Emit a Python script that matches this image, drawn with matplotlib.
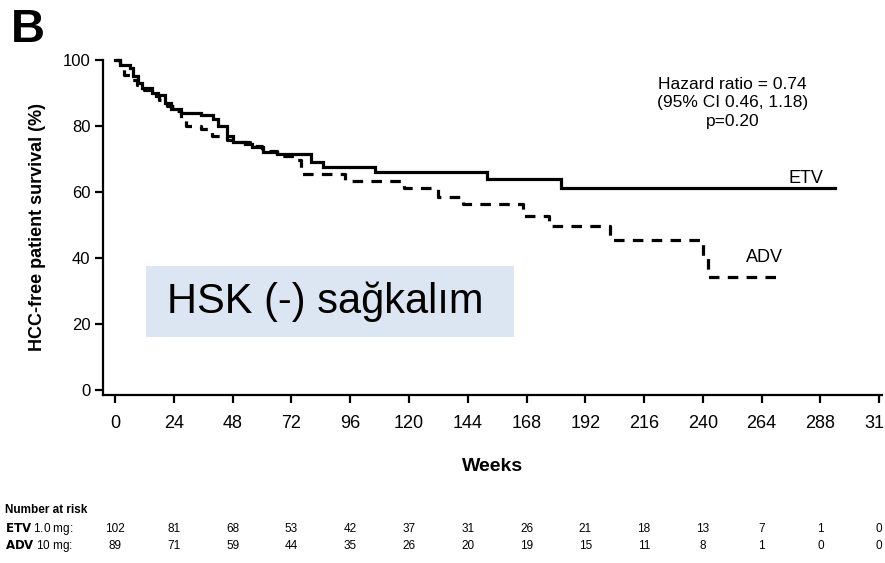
import matplotlib
matplotlib.use("Agg")
import matplotlib.pyplot as plt
from matplotlib.patches import Rectangle

plt.rcParams['font.family'] = ['Liberation Sans Narrow', 'Liberation Sans', 'DejaVu Sans']

# Kaplan-Meier step data (weeks, % HCC-free survival)
etv_weeks = [0, 2, 6, 7.5, 9.5, 11, 15, 17.5, 20.5, 23, 27, 35, 40, 42, 45.5, 48,
             53, 56, 60.5, 66, 80, 85, 106, 152, 182]
etv_surv = [100, 98.5, 97.5, 95, 93, 91.5, 90, 89.4, 87, 85, 84, 83.3, 82, 80, 77, 75,
            74.5, 73.7, 72, 71.5, 69, 67.7, 66, 64, 61.2]
etv_end = 294

adv_weeks = [0, 2, 3.5, 6, 9, 12, 15, 18, 21, 24, 27, 29, 35, 39.5, 45.5, 50, 55, 60,
             66, 73, 76, 94, 118, 132, 142, 166.5, 177, 202, 240, 242]
adv_surv = [100, 98.9, 95.5, 94, 92.5, 91, 89, 88, 86, 84.5, 82, 80, 79, 77, 75.7, 75,
            74, 72.5, 71, 69.7, 65.5, 63.4, 61.2, 58.6, 56.3, 52.8, 49.7, 45.5, 40.4, 34.2]
adv_end = 271.5

x_ticks = list(range(0, 313, 24))
y_ticks = [0, 20, 40, 60, 80, 100]

risk_etv = [102, 81, 68, 53, 42, 37, 31, 26, 21, 18, 13, 7, 1, 0]
risk_adv = [89, 71, 59, 44, 35, 26, 20, 19, 15, 11, 8, 1, 0, 0]

fig = plt.figure(figsize=(8.85, 5.63), dpi=100)
ax = fig.add_axes([0.1162, 0.2979, 0.8800, 0.5985])

ax.step(etv_weeks + [etv_end], etv_surv + [etv_surv[-1]], where='post',
        color='black', lw=2.3, clip_on=False, solid_joinstyle='miter')
ax.step(adv_weeks + [adv_end], adv_surv + [adv_surv[-1]], where='post',
        color='black', lw=2.3, clip_on=False, dashes=(3.3, 2.6))

ax.set_xlim(-5, 313)
ax.set_ylim(-1.6, 100.5)
ax.spines['top'].set_visible(False)
ax.spines['right'].set_visible(False)
ax.spines['left'].set_bounds(-1.6, 100)
for s in ('left', 'bottom'):
    ax.spines[s].set_linewidth(1.6)

ax.set_xticks(x_ticks)
ax.set_yticks(y_ticks)
ax.tick_params(axis='both', direction='out', length=6, width=1.6, color='black')
ax.tick_params(axis='x', labelsize=13, pad=8)
ax.tick_params(axis='y', labelsize=12, pad=3)

ax.set_ylabel('HCC-free patient survival (%)', fontsize=13, fontweight='bold',
              family=['Liberation Sans', 'DejaVu Sans'], labelpad=12)
ax.set_xlabel('Weeks', fontsize=14, fontweight='bold', labelpad=19)

ax.text(252, 87, 'Hazard ratio = 0.74\n(95% CI 0.46, 1.18)\np=0.20',
        ha='center', va='center', fontsize=12.5, linespacing=1.3)
ax.text(282, 61.5, 'ETV', ha='center', va='bottom', fontsize=13)
ax.text(265, 40, 'ADV', ha='center', va='center', fontsize=13)

# Panel letter
fig.text(0.012, 0.985, 'B', ha='left', va='top', fontsize=34, fontweight='bold',
         family=['Liberation Sans', 'DejaVu Sans'])

# Highlighted caption box
fig.patches.append(Rectangle((146 / 885, 1 - 337 / 563), (514 - 146) / 885, (337 - 266) / 563,
                             transform=fig.transFigure, facecolor='#dce6f2',
                             edgecolor='none', zorder=5))
fig.text(167 / 885, 1 - 302 / 563, 'HSK (-) sağkalım', ha='left', va='center',
         fontsize=30, family=['Liberation Sans', 'DejaVu Sans'], zorder=6)

# Number-at-risk table
fig.text(5 / 885, 1 - 510 / 563, 'Number at risk', ha='left', va='center',
         fontsize=8.5, fontweight='bold')
row_y = [1 - 529 / 563, 1 - 546 / 563]
fig.text(5 / 885, row_y[0], r'$\mathbf{ETV}$ 1.0 mg:', ha='left', va='center', fontsize=8.5)
fig.text(5 / 885, row_y[1], r'$\mathbf{ADV}$ 10 mg:', ha='left', va='center', fontsize=8.5)
trans = matplotlib.transforms.blended_transform_factory(ax.transData, fig.transFigure)
for wk, a, b in zip(x_ticks, risk_etv, risk_adv):
    ax.text(wk, row_y[0], str(a), transform=trans, ha='center', va='center',
            fontsize=8.5, clip_on=False)
    ax.text(wk, row_y[1], str(b), transform=trans, ha='center', va='center',
            fontsize=8.5, clip_on=False)

fig.savefig('out.png', dpi=100)
